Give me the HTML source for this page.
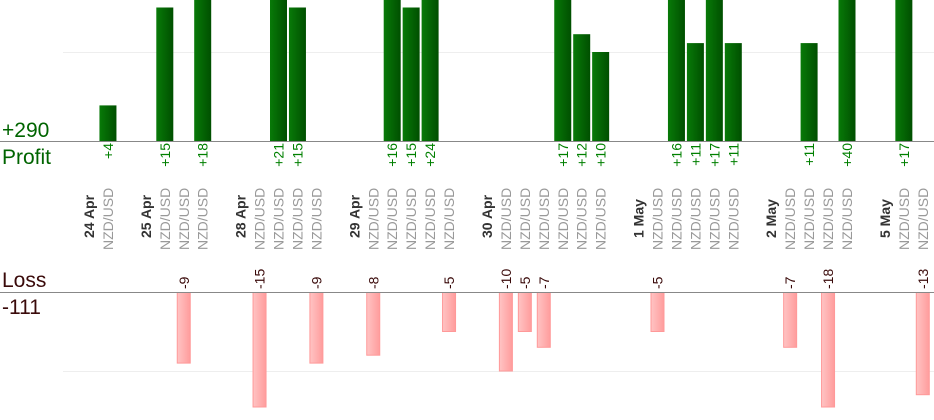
<!DOCTYPE html>
<html><head><meta charset="utf-8">
<style>
html,body{margin:0;padding:0;background:#fff;}
svg{display:block;font-family:"Liberation Sans",Arial,sans-serif;}
</style></head>
<body>
<svg id="chart" width="934" height="420" viewBox="0 0 934 420" xmlns="http://www.w3.org/2000/svg">
<defs>
<linearGradient id="gg" x1="0" x2="1" y1="0" y2="0"><stop offset="0" stop-color="#087a08"/><stop offset="1" stop-color="#004f00"/></linearGradient>
<linearGradient id="rg" x1="0" x2="1" y1="0" y2="0"><stop offset="0" stop-color="#ffc4c4"/><stop offset="1" stop-color="#ff9c9c"/></linearGradient>
</defs>
<line x1="63" y1="52.5" x2="934" y2="52.5" stroke="#eee"/>
<line x1="63" y1="371.5" x2="934" y2="371.5" stroke="#eee"/>
<g id="marks"></g>
<line x1="0" y1="141.5" x2="934" y2="141.5" stroke="#888"/>
<line x1="0" y1="292.5" x2="934" y2="292.5" stroke="#888"/>
<text x="2" y="137" font-size="21" fill="#006400">+290</text>
<text x="2" y="164" font-size="21" fill="#006400">Profit</text>
<text x="2" y="287" font-size="21" fill="#3a0a0a">Loss</text>
<text x="2" y="314" font-size="21" fill="#3a0a0a">-111</text>
</svg>
<script>
const dates = ["24 Apr","25 Apr","28 Apr","29 Apr","30 Apr","1 May","2 May","5 May"];
const tradesPerDate = [1,3,4,5,6,5,4,2];
const pairs = ["NZD/USD"];
const tradeValues = [4, 15,-9,18, -15,21,15,-9, -8,16,15,24,-5, -10,-5,-7,17,12,10, -5,16,11,17,11, -7,11,-18,40, 17,-13];

const NS="http://www.w3.org/2000/svg";
const g=document.getElementById('marks');
const step=18.95, x0=89;
const profitBase=141, profitScale=8.9;
const lossBase=292, lossScale=7.9;
function yProfit(v){return Math.max(0, profitBase - v*profitScale);}
function yLoss(v){return Math.min(407, lossBase + v*lossScale);}
function mk(tag,attrs){const e=document.createElementNS(NS,tag);for(const k in attrs)e.setAttribute(k,attrs[k]);g.appendChild(e);return e;}

let slot=0, ti=0;
dates.forEach((d,di)=>{
  const dx=x0+slot*step;
  const dt=mk('text',{x:0,y:0,'font-size':14,'font-weight':'bold',fill:'#333','text-anchor':'start',transform:`translate(${dx+5},${238}) rotate(-90)`});
  
  
  dt.textContent=d;
  slot++;
  for(let i=0;i<tradesPerDate[di];i++){
    const cx=x0+slot*step;
    const v=tradeValues[ti];
    const pl=mk('text',{x:0,y:0,'font-size':14,fill:'#999','text-anchor':'start',transform:`translate(${cx+5},${250}) rotate(-90)`});
    
    
    pl.textContent=pairs[0];
    if(v>0){
      const top=yProfit(v);
      const r=mk('rect',{x:cx-8.5,y:top,width:17,height:profitBase-top,fill:'url(#gg)'});
      
      
      const t=mk('text',{x:0,y:0,'font-size':14,fill:'#008000','text-anchor':'end',transform:`translate(${cx+5},${143}) rotate(-90)`});
      
      
      t.textContent='+'+v;
    } else {
      const bot=yLoss(-v);
      const r=mk('rect',{x:cx-6.5,y:lossBase+0.5,width:13,height:bot-lossBase-0.5,fill:'url(#rg)',stroke:'#f99','stroke-width':1});
      
      
      const t=mk('text',{x:0,y:0,'font-size':14,fill:'#3a0a0a','text-anchor':'start',transform:`translate(${cx+5},${289}) rotate(-90)`});
      
      
      t.textContent=String(v);
    }
    slot++; ti++;
  }
  slot++;
});
</script>
</body></html>
